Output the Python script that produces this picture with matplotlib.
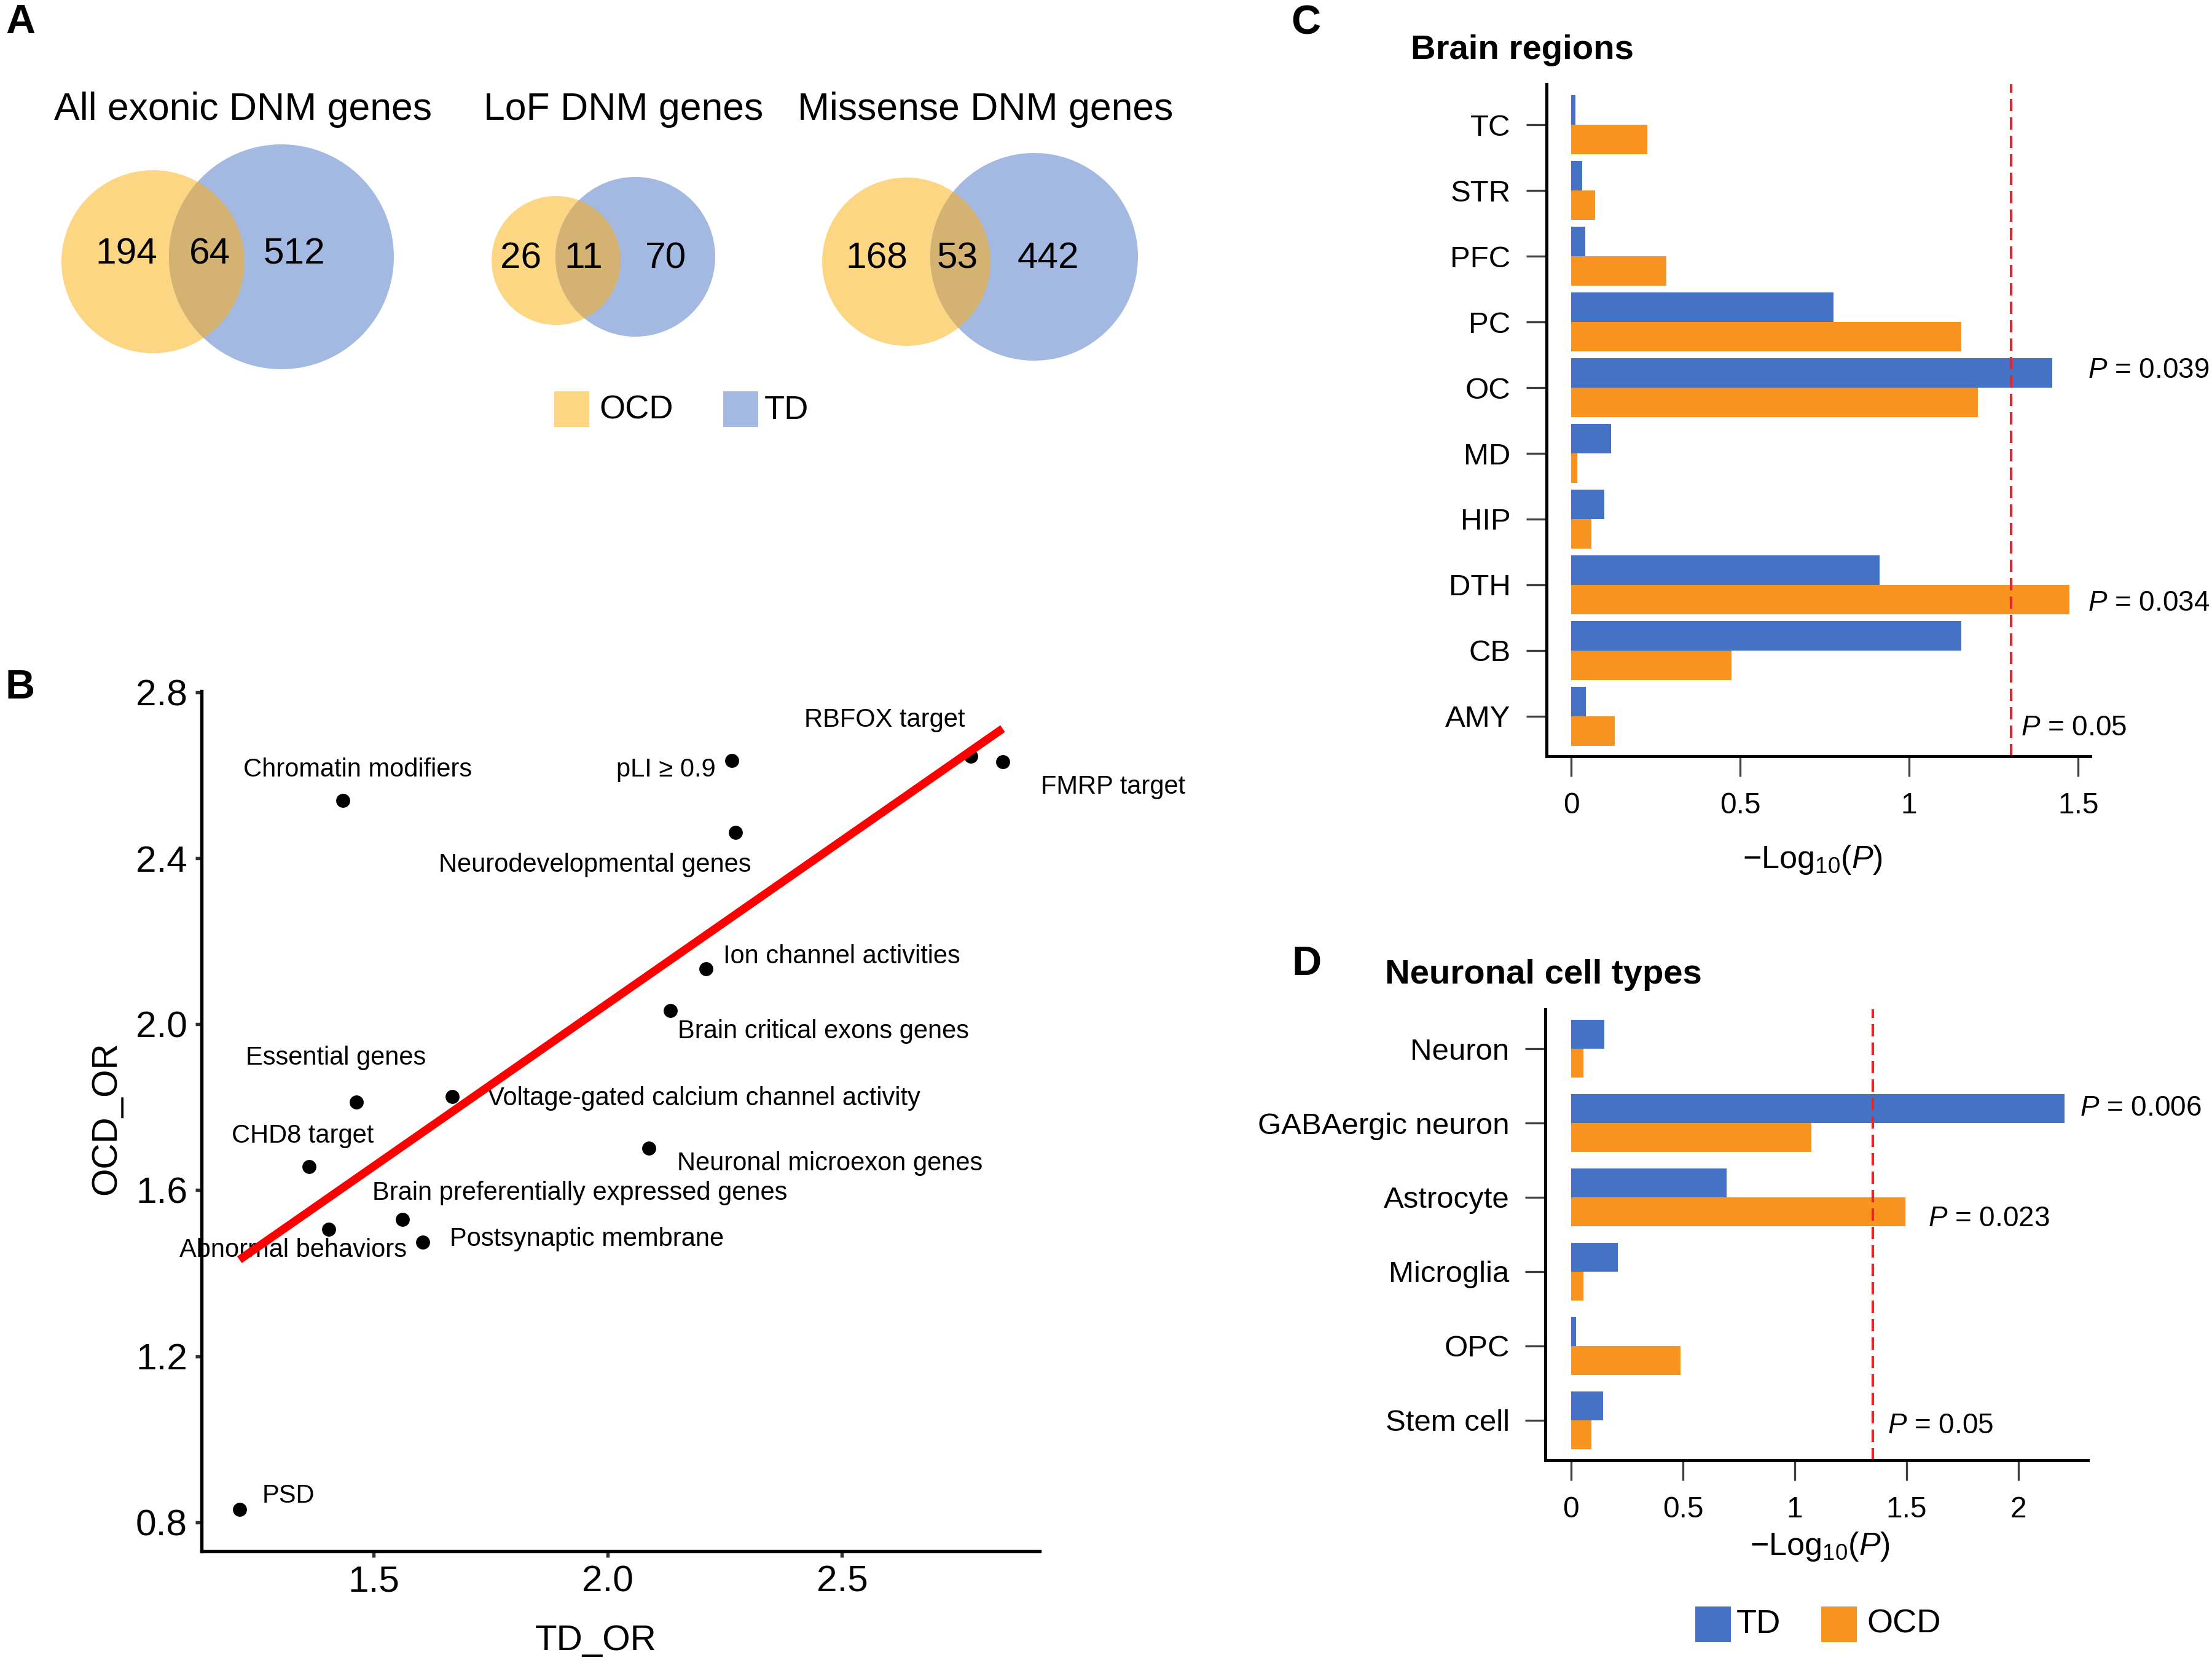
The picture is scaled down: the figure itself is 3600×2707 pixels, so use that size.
import numpy as np
import matplotlib.pyplot as plt
from matplotlib.patches import Circle, Rectangle

plt.rcParams['font.family'] = ['Liberation Sans', 'DejaVu Sans']
plt.rcParams['mathtext.fontset'] = 'custom'
plt.rcParams['mathtext.rm'] = 'Liberation Sans'
plt.rcParams['mathtext.it'] = 'Liberation Sans:italic'

# ---- data ----
# A: DNM gene overlaps
venn_titles = ['All exonic DNM genes', 'LoF DNM genes', 'Missense DNM genes']
ocd_only = [194, 26, 168]
shared = [64, 11, 53]
td_only = [512, 70, 442]

# B: odds ratios per gene set
gene_sets = ['Chromatin modifiers', 'pLI ≥ 0.9', 'RBFOX target', 'FMRP target',
             'Neurodevelopmental genes', 'Ion channel activities',
             'Brain critical exons genes', 'Essential genes',
             'Voltage-gated calcium channel activity', 'CHD8 target',
             'Neuronal microexon genes', 'Brain preferentially expressed genes',
             'Abnormal behaviors', 'Postsynaptic membrane', 'PSD']
td_or = [1.434, 2.265, 2.775, 2.843, 2.272, 2.210, 2.133, 1.463,
         1.668, 1.362, 2.088, 1.561, 1.404, 1.605, 1.213]
ocd_or = [2.540, 2.635, 2.646, 2.633, 2.462, 2.133, 2.033, 1.813,
          1.825, 1.657, 1.702, 1.530, 1.506, 1.475, 0.830]

# C: brain regions, -log10(P)
regions = ['TC', 'STR', 'PFC', 'PC', 'OC', 'MD', 'HIP', 'DTH', 'CB', 'AMY']
region_td = [0.013, 0.033, 0.042, 0.776, 1.424, 0.118, 0.098, 0.913, 1.155, 0.044]
region_ocd = [0.225, 0.071, 0.282, 1.155, 1.204, 0.018, 0.060, 1.475, 0.475, 0.129]

# D: neuronal cell types, -log10(P)
cells = ['Neuron', 'GABAergic neuron', 'Astrocyte', 'Microglia', 'OPC', 'Stem cell']
cell_td = [0.149, 2.206, 0.696, 0.208, 0.023, 0.144]
cell_ocd = [0.056, 1.073, 1.493, 0.056, 0.490, 0.090]
cell_cut = 1.35  # threshold line as drawn in panel D

TD_BLUE = '#4472C4'
OCD_ORANGE = '#F7931E'
DASH_RED = '#E8262A'

W, H = 3600, 2707
fig = plt.figure(figsize=(W / 300, H / 300), dpi=300)


def px_axes(left, top, right, bottom):
    return fig.add_axes([left / W, 1 - bottom / H, (right - left) / W, (bottom - top) / H])


def ftext(x, y, s, **kw):
    fig.text(x / W, 1 - y / H, s, **kw)


# ---- A: Venn diagrams ----
ax_a = px_axes(0, 0, 1950, 720)
ax_a.set_xlim(0, 1950)
ax_a.set_ylim(720, 0)
ax_a.axis('off')

venn_geom = [((249, 426, 149), (458, 418, 183)),
             ((905, 424, 105), (1034, 418, 130)),
             ((1475, 426, 137), (1683, 418, 169))]
title_x = [396, 1015, 1604]
num_x = [(206, 341, 479), (848, 950, 1084), (1427, 1558, 1706)]
num_y = [414, 421, 421]

for i in range(3):
    (ox, oy, orad), (tx, ty, trad) = venn_geom[i]
    ax_a.add_patch(Circle((ox, oy), orad, color='#FDD683', lw=0))
    td_c = Circle((tx, ty), trad, color='#A3B9E1', lw=0)
    ax_a.add_patch(td_c)
    ov = Circle((ox, oy), orad, color='#D4B272', lw=0)
    ax_a.add_patch(ov)
    ov.set_clip_path(td_c)
    ax_a.text(title_x[i], 178, venn_titles[i], ha='center', va='center', fontsize=15)
    for xx, val in zip(num_x[i], [ocd_only[i], shared[i], td_only[i]]):
        ax_a.text(xx, num_y[i], str(val), ha='center', va='center', fontsize=14.5)

ax_a.add_patch(Rectangle((902, 637), 57, 58, color='#FDD683', lw=0))
ax_a.text(975, 668, 'OCD', ha='left', va='center', fontsize=13)
ax_a.add_patch(Rectangle((1177, 637), 57, 58, color='#A3B9E1', lw=0))
ax_a.text(1244, 668, 'TD', ha='left', va='center', fontsize=13)

# ---- B: scatter ----
ax_b = px_axes(328, 1125, 1692, 2525)
ax_b.scatter(td_or, ocd_or, s=30, color='black', zorder=3, linewidths=0)
fit = np.polyfit(td_or, ocd_or, 1)
fx = np.array([min(td_or), max(td_or)])
ax_b.plot(fx, np.polyval(fit, fx), color='#FF0000', lw=3.2, solid_capstyle='butt', zorder=5)

# label offsets in points: (dx, dy, ha)
label_pos = {
    'Chromatin modifiers': (-39.0, 11.8, 'left'),
    'pLI ≥ 0.9': (-6.5, -3.6, 'right'),
    'RBFOX target': (-2.2, 14.2, 'right'),
    'FMRP target': (15.0, -9.8, 'left'),
    'Neurodevelopmental genes': (6.2, -12.7, 'right'),
    'Ion channel activities': (6.5, 5.0, 'left'),
    'Brain critical exons genes': (3.0, -8.2, 'left'),
    'Essential genes': (-43.2, 17.3, 'left'),
    'Voltage-gated calcium channel activity': (13.6, -0.7, 'left'),
    'CHD8 target': (-30.2, 12.1, 'left'),
    'Neuronal microexon genes': (11.0, -6.1, 'left'),
    'Brain preferentially expressed genes': (-11.8, 10.3, 'left'),
    'Abnormal behaviors': (-58.3, -8.2, 'left'),
    'Postsynaptic membrane': (10.4, 1.2, 'left'),
    'PSD': (8.9, 5.5, 'left'),
}
for name, x, y in zip(gene_sets, td_or, ocd_or):
    dx, dy, ha = label_pos[name]
    ax_b.annotate(name, (x, y), xytext=(dx, dy), textcoords='offset points',
                  ha=ha, va='center', fontsize=10, zorder=4)

ax_b.set_xlim(1.132, 2.922)
ax_b.set_ylim(0.73, 2.803)
ax_b.set_xticks([1.5, 2.0, 2.5])
ax_b.set_xticklabels(['1.5', '2.0', '2.5'])
ax_b.set_yticks([0.8, 1.2, 1.6, 2.0, 2.4, 2.8])
ax_b.set_yticklabels(['0.8', '1.2', '1.6', '2.0', '2.4', '2.8'])
for s in ['top', 'right']:
    ax_b.spines[s].set_visible(False)
for s in ['left', 'bottom']:
    ax_b.spines[s].set_linewidth(1.3)
ax_b.tick_params(length=2.5, width=1.3, color='#333333', labelsize=14.5, pad=3)
ftext(970, 2671, 'TD_OR', ha='center', va='center', fontsize=14)
ftext(173, 1820, 'OCD_OR', ha='center', va='center', fontsize=14, rotation=90)


# ---- C / D: bar panels ----
def bar_panel(ax, cats, td, ocd, h, cut):
    y = np.arange(len(cats))
    ax.barh(y - h / 2, td, height=h, color=TD_BLUE)
    ax.barh(y + h / 2, ocd, height=h, color=OCD_ORANGE)
    ax.axvline(cut, color=DASH_RED, lw=1, ls=(0, (4.8, 2.4)))
    ax.set_yticks(y)
    ax.set_yticklabels(cats)
    for s in ['top', 'right']:
        ax.spines[s].set_visible(False)
    for s in ['left', 'bottom']:
        ax.spines[s].set_linewidth(1.2)
    ax.tick_params(length=8, width=0.8, color='#404040', labelsize=11.8, pad=6)
    ax.tick_params(axis='x', labelsize=11.5)


ax_c = px_axes(2517, 137, 3402, 1231)
bar_panel(ax_c, regions, region_td, region_ocd, 0.45, -np.log10(0.05))
ax_c.set_xlim(-0.073, 1.536)
ax_c.set_ylim(9.61, -0.62)
ax_c.set_xticks([0, 0.5, 1, 1.5])
ax_c.set_xticklabels(['0', '0.5', '1', '1.5'])
ax_c.text(1.528, 3.74, '$\\mathit{P}$ = 0.039', ha='left', va='center', fontsize=11, clip_on=False)
ax_c.text(1.528, 7.28, '$\\mathit{P}$ = 0.034', ha='left', va='center', fontsize=11, clip_on=False)
ax_c.text(1.330, 9.18, '$\\mathit{P}$ = 0.05', ha='left', va='center', fontsize=11)

ax_d = px_axes(2515, 1643, 3398, 2377)
bar_panel(ax_d, cells, cell_td, cell_ocd, 0.39, cell_cut)
ax_d.set_xlim(-0.115, 2.31)
ax_d.set_ylim(5.54, -0.53)
ax_d.set_xticks([0, 0.5, 1, 1.5, 2])
ax_d.set_xticklabels(['0', '0.5', '1', '1.5', '2'])
ax_d.text(2.275, 0.80, '$\\mathit{P}$ = 0.006', ha='left', va='center', fontsize=11, clip_on=False)
ax_d.text(1.596, 2.29, '$\\mathit{P}$ = 0.023', ha='left', va='center', fontsize=11)
ax_d.text(1.415, 5.08, '$\\mathit{P}$ = 0.05', ha='left', va='center', fontsize=11)

ftext(2950, 1400, '−Log$_{10}$($\\mathit{P}$)', ha='center', va='center', fontsize=12.5)
ftext(2962, 2518, '−Log$_{10}$($\\mathit{P}$)', ha='center', va='center', fontsize=12.5)
ftext(2296, 82, 'Brain regions', ha='left', va='center', fontsize=13.5, fontweight='bold')
ftext(2254, 1587, 'Neuronal cell types', ha='left', va='center', fontsize=13.5, fontweight='bold')

# legend for C/D
fig.add_artist(Rectangle((2759 / W, 1 - 2673 / H), 58 / W, 58 / H, color=TD_BLUE,
                         lw=0, transform=fig.transFigure))
ftext(2826, 2644, 'TD', ha='left', va='center', fontsize=13)
fig.add_artist(Rectangle((2964 / W, 1 - 2673 / H), 58 / W, 58 / H, color=OCD_ORANGE,
                         lw=0, transform=fig.transFigure))
ftext(3038, 2644, 'OCD', ha='left', va='center', fontsize=13)

# panel letters
for lx, ly, letter in [(33, 37, 'A'), (33, 1120, 'B'), (2125, 39, 'C'), (2127, 1570, 'D')]:
    ftext(lx, ly, letter, ha='center', va='center', fontsize=16, fontweight='bold')

fig.savefig('out.png', dpi=300)
